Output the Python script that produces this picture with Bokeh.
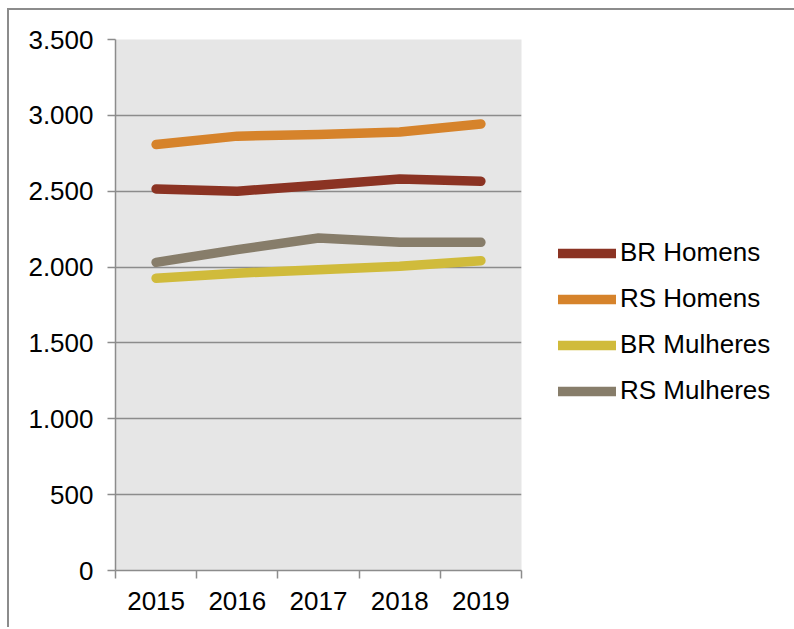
from bokeh.plotting import figure
from bokeh.models import Range1d, FixedTicker, Legend, LegendItem
from bokeh.embed import file_html
from bokeh.resources import INLINE

years = ["2015", "2016", "2017", "2018", "2019"]
br_homens = [2515, 2500, 2540, 2581, 2566]
rs_homens = [2808, 2863, 2874, 2890, 2943]
br_mulheres = [1927, 1960, 1983, 2005, 2042]
rs_mulheres = [2031, 2115, 2192, 2163, 2163]
series_names = ["BR Homens", "RS Homens", "BR Mulheres", "RS Mulheres"]
series_colors = ["#8B3323", "#D6832B", "#D0BB3B", "#877D6A"]
y_ticks = [0, 500, 1000, 1500, 2000, 2500, 3000, 3500]

FONT = "Liberation Sans"

xs = [i + 0.5 for i in range(len(years))]

p = figure(output_backend="svg", toolbar_location=None,
           x_range=Range1d(0, len(years)), y_range=Range1d(0, 3500))
p.frame_width = 406
p.frame_height = 531
p.min_border_left = 106
p.min_border_top = 29
p.min_border_right = 0
p.min_border_bottom = 57
p.margin = (8, 0, 0, 7)
p.styles = {"border-style": "solid none none solid", "border-width": "2px",
            "border-color": "#8c8c8c"}

p.background_fill_color = "#e6e6e6"
p.border_fill_color = "white"
p.outline_line_color = None

p.xgrid.grid_line_color = None
p.ygrid.grid_line_color = "#8c8c8c"
p.ygrid.grid_line_width = 1.5

# y axis
p.yaxis.ticker = FixedTicker(ticks=y_ticks)
p.yaxis.major_label_overrides = {v: f"{v:,}".replace(",", ".") for v in y_ticks}
p.yaxis.axis_line_color = "#8c8c8c"
p.yaxis.axis_line_width = 1.5
p.yaxis.major_tick_line_color = "#8c8c8c"
p.yaxis.major_tick_line_width = 1.5
p.yaxis.major_tick_out = 8
p.yaxis.major_tick_in = 0
p.yaxis.minor_tick_line_color = None
p.yaxis.major_label_standoff = 14
p.yaxis.major_label_text_font = FONT
p.yaxis.major_label_text_font_size = "26px"
p.yaxis.major_label_text_color = "#000000"

# x axis: labels at category centres, ticks at boundaries
p.xaxis.ticker = FixedTicker(ticks=xs, minor_ticks=list(range(len(years) + 1)))
p.xaxis.major_label_overrides = {x: y for x, y in zip(xs, years)}
p.xaxis.axis_line_color = "#8c8c8c"
p.xaxis.axis_line_width = 1.5
p.xaxis.major_tick_line_color = None
p.xaxis.major_tick_out = 8
p.xaxis.minor_tick_line_color = "#8c8c8c"
p.xaxis.minor_tick_line_width = 1.5
p.xaxis.minor_tick_out = 8
p.xaxis.minor_tick_in = 0
p.xaxis.major_label_standoff = 13
p.xaxis.major_label_text_font = FONT
p.xaxis.major_label_text_font_size = "26px"
p.xaxis.major_label_text_color = "#000000"

items = []
for name, vals, col in zip(series_names, [br_homens, rs_homens, br_mulheres, rs_mulheres], series_colors):
    r = p.line(xs, vals, line_color=col, line_width=9.5, line_cap="round", line_join="round")
    items.append(LegendItem(label=name, renderers=[r]))

legend = Legend(items=items, location=(37, 164), orientation="vertical")
legend.background_fill_alpha = 0
legend.border_line_color = None
legend.padding = 0
legend.margin = 0
legend.spacing = 15
legend.glyph_width = 58
legend.glyph_height = 24
legend.label_height = 24
legend.label_standoff = 4
legend.label_text_font = FONT
legend.label_text_font_size = "26px"
legend.label_text_color = "#000000"
p.add_layout(legend, "right")

open("out.html", "w").write(file_html(p, INLINE))
